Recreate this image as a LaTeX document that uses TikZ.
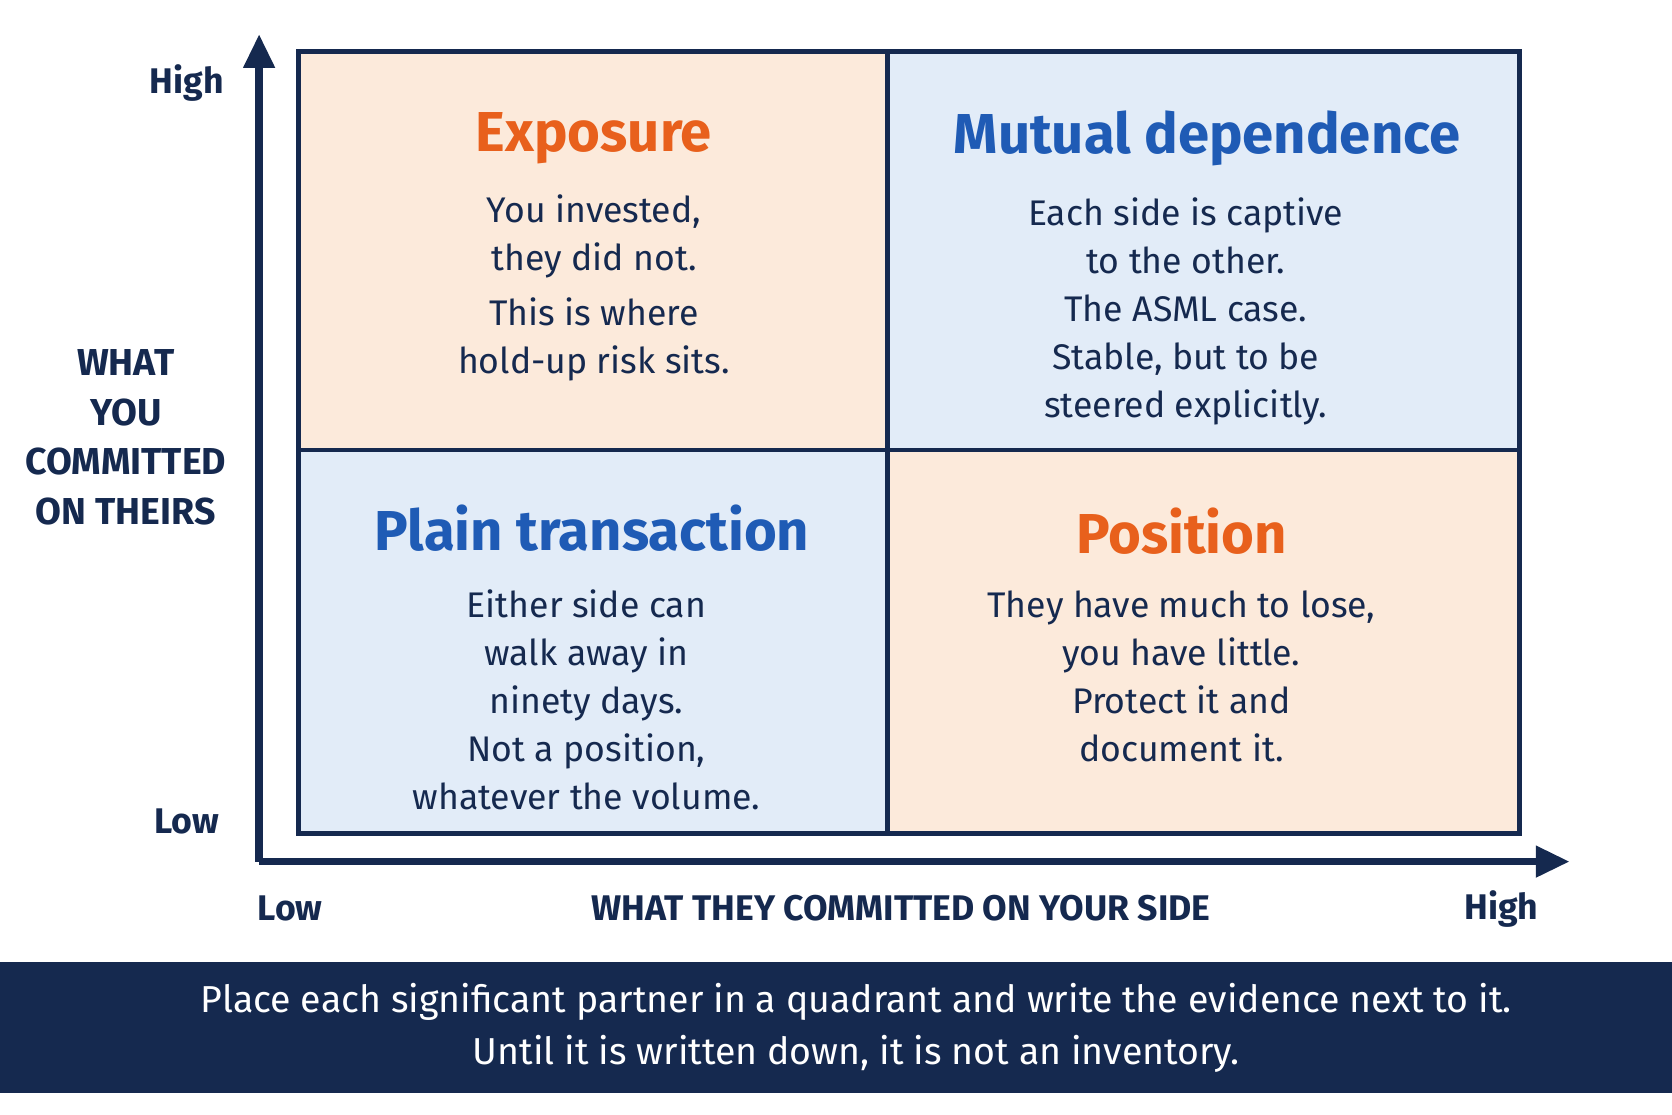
\documentclass[tikz,border=0pt]{standalone}
\usepackage{fontspec}
\setmainfont{Fira Sans}
\usetikzlibrary{positioning,arrows.meta}
\definecolor{navy}{HTML}{15294F}
\definecolor{peach}{HTML}{FCEADB}
\definecolor{pale}{HTML}{E2ECF8}
\definecolor{hot}{HTML}{E8601C}
\definecolor{cool}{HTML}{1F5BB5}
\tikzset{
  title/.style={font=\fontsize{15}{17}\selectfont\bfseries},
  body/.style={align=center, text=navy, font=\fontsize{9.5}{12.8}\selectfont},
  axis lbl/.style={text=navy, font=\fontsize{9.5}{13}\selectfont\bfseries, align=center}
}
\begin{document}
\begin{tikzpicture}[x=0.01cm, y=-0.01cm]
    \useasboundingbox (0,0) rectangle (1568,1045);
    % quadrants
    \fill[peach] (280,48) rectangle (832,422);
    \fill[pale] (832,48) rectangle (1425,422);
    \fill[pale] (280,422) rectangle (832,782);
    \fill[peach] (832,422) rectangle (1425,782);
    \draw[navy, line width=1.3pt] (280,48) rectangle (1425,782);
    \draw[navy, line width=1.3pt] (832,48) -- (832,782);
    \draw[navy, line width=1.3pt] (280,422) -- (1425,422);
    % axes
    \coordinate (o) at (243,808);
    \coordinate (ytop) at (243,32);
    \coordinate (xend) at (1472,808);
    \draw[navy, line width=2pt, -{Triangle[length=9pt,width=8pt]}] (o) -- (ytop);
    \draw[navy, line width=2pt, -{Triangle[length=9pt,width=8pt]}] (o) -- (xend);

    \node[title, text=hot] (expo) at (557,130) {Exposure};
    \node[body] (expotxt) at (557,270) {You invested,\\they did not.\\[2pt]This is where\\hold-up risk sits.};
    \node[title, text=cool] (mutual) at (1132,130) {Mutual dependence};
    \node[body] (mutualtxt) at (1112,292) {Each side is captive\\to the other.\\The ASML case.\\Stable, but to be\\steered explicitly.};
    \node[title, text=cool] (plain) at (555,495) {Plain transaction};
    \node[body] (plaintxt) at (550,656) {Either side can\\walk away in\\ninety days.\\Not a position,\\whatever the volume.};
    \node[title, text=hot] (posn) at (1108,498) {Position};
    \node[body] (posntxt) at (1108,634) {They have much to lose,\\you have little.\\Protect it and\\document it.};

    \node[axis lbl] (yhigh) at (175,78) {High};
    \node[axis lbl] (ylow) at (175,770) {Low};
    \node[axis lbl, font=\fontsize{10}{13.2}\selectfont\bfseries] (ytitle) at (118,410) {WHAT\\YOU\\COMMITTED\\ON THEIRS};
    \node[axis lbl] (xlow) at (272,852) {Low};
    \node[axis lbl] (xtitle) at (845,852) {WHAT THEY COMMITTED ON YOUR SIDE};
    \node[axis lbl] (xhigh) at (1408,852) {High};

    % footer
    \fill[navy] (0,902) rectangle (1568,1025);
    \node[text=white, align=center, font=\fontsize{10}{14}\selectfont] (note) at (803,964)
      {Place each significant partner in a quadrant and write the evidence next to it.\\Until it is written down, it is not an inventory.};
\end{tikzpicture}
\end{document}
